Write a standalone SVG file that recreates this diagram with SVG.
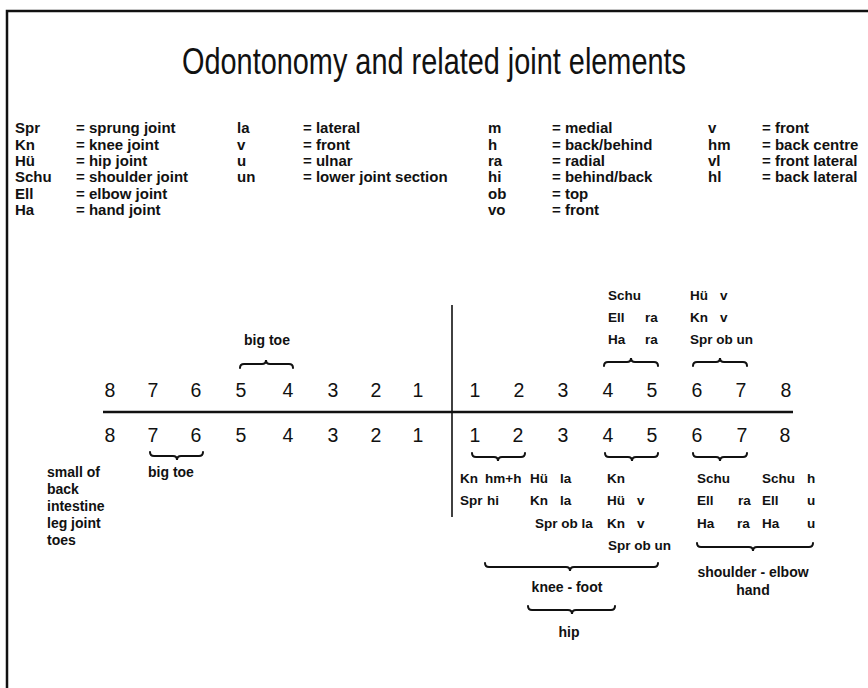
<svg xmlns="http://www.w3.org/2000/svg" width="868" height="688" viewBox="0 0 868 688">
<style>
.t{font-family:"Liberation Sans",Arial,sans-serif;fill:#111}
.lg{font-size:15px;font-weight:bold}
.num{font-size:19.5px}
.lb{font-size:13.5px;font-weight:bold}
.bl{font-size:14px;font-weight:bold}
.br{fill:none;stroke:#111;stroke-width:2;stroke-linecap:round}
.ax{stroke:#111;fill:none}
</style>
<rect x="0" y="0" width="868" height="688" fill="#fff"/>
<path d="M7,688 V11 H868" class="ax" stroke-width="2.5"/>
<g id="title"><text class="t" x="434" y="74" font-size="37" text-anchor="middle" textLength="504" lengthAdjust="spacingAndGlyphs">Odontonomy and related joint elements</text></g>
<g id="legend" class="t lg">
<text x="15" y="133">Spr</text><text x="76" y="133">= sprung joint</text>
<text x="15" y="149.5">Kn</text><text x="76" y="149.5">= knee joint</text>
<text x="15" y="166">Hü</text><text x="76" y="166">= hip joint</text>
<text x="15" y="182">Schu</text><text x="76" y="182">= shoulder joint</text>
<text x="15" y="198.5">Ell</text><text x="76" y="198.5">= elbow joint</text>
<text x="15" y="215">Ha</text><text x="76" y="215">= hand joint</text>
<text x="237" y="133">la</text><text x="303" y="133">= lateral</text>
<text x="237" y="149.5">v</text><text x="303" y="149.5">= front</text>
<text x="237" y="166">u</text><text x="303" y="166">= ulnar</text>
<text x="237" y="182">un</text><text x="303" y="182">= lower joint section</text>
<text x="488" y="133">m</text><text x="552" y="133">= medial</text>
<text x="488" y="149.5">h</text><text x="552" y="149.5">= back/behind</text>
<text x="488" y="166">ra</text><text x="552" y="166">= radial</text>
<text x="488" y="182">hi</text><text x="552" y="182">= behind/back</text>
<text x="488" y="198.5">ob</text><text x="552" y="198.5">= top</text>
<text x="488" y="215">vo</text><text x="552" y="215">= front</text>
<text x="708" y="133">v</text><text x="762" y="133">= front</text>
<text x="708" y="149.5">hm</text><text x="762" y="149.5">= back centre</text>
<text x="708" y="166">vl</text><text x="762" y="166">= front lateral</text>
<text x="708" y="182">hl</text><text x="762" y="182">= back lateral</text>
</g>
<g id="axes">
<line x1="103" y1="412" x2="793" y2="412" class="ax" stroke-width="2.5"/>
<line x1="452" y1="305" x2="452" y2="517" class="ax" stroke-width="1.6"/>
</g>
<g id="numbers-upper" class="t num" text-anchor="middle">
<text x="110" y="397">8</text><text x="153" y="397">7</text><text x="196" y="397">6</text><text x="241" y="397">5</text><text x="288" y="397">4</text><text x="333" y="397">3</text><text x="376" y="397">2</text><text x="418" y="397">1</text>
<text x="475" y="397">1</text><text x="519" y="397">2</text><text x="563" y="397">3</text><text x="608" y="397">4</text><text x="652" y="397">5</text><text x="697" y="397">6</text><text x="741" y="397">7</text><text x="786" y="397">8</text>
</g>
<g id="numbers-lower" class="t num" text-anchor="middle">
<text x="110" y="442">8</text><text x="153" y="442">7</text><text x="196" y="442">6</text><text x="241" y="442">5</text><text x="288" y="442">4</text><text x="333" y="442">3</text><text x="376" y="442">2</text><text x="418" y="442">1</text>
<text x="475" y="442">1</text><text x="518" y="442">2</text><text x="563" y="442">3</text><text x="608" y="442">4</text><text x="652" y="442">5</text><text x="697" y="442">6</text><text x="742" y="442">7</text><text x="785" y="442">8</text>
</g>
<g id="braces">
<path class="br" d="M240,368 Q240,364 244,364 L262,364 Q266,364 266,360 Q266,364 270,364 L289,364 Q293,364 293,368"/>
<path class="br" d="M604,366 Q604,362 608,362 L627,362 Q631,362 631,358 Q631,362 635,362 L654,362 Q658,362 658,366"/>
<path class="br" d="M693,366 Q693,362 697,362 L716,362 Q720,362 720,358 Q720,362 724,362 L743,362 Q747,362 747,366"/>
<path class="br" d="M150,452 Q150,456 154,456 L173,456 Q177,456 177,460 Q177,456 181,456 L199,456 Q203,456 203,452"/>
<path class="br" d="M472,453 Q472,457 476,457 L494,457 Q498,457 498,461 Q498,457 502,457 L521,457 Q525,457 525,453"/>
<path class="br" d="M605,453 Q605,457 609,457 L628,457 Q632,457 632,461 Q632,457 636,457 L654,457 Q658,457 658,453"/>
<path class="br" d="M693,453 Q693,457 697,457 L716,457 Q720,457 720,461 Q720,457 724,457 L743,457 Q747,457 747,453"/>
<path class="br" d="M697,543 Q697,547 701,547 L749,547 Q753,547 753,551 Q753,547 757,547 L809,547 Q813,547 813,543"/>
<path class="br" d="M485,563 Q485,567 489,567 L566,567 Q570,567 570,571 Q570,567 574,567 L654,567 Q658,567 658,563"/>
<path class="br" d="M528,606 Q528,610 532,610 L568,610 Q572,610 572,614 Q572,610 576,610 L611,610 Q615,610 615,606"/>
</g>
<g id="labels-upper" class="t lb">
<text x="608" y="300">Schu</text>
<text x="608" y="322">Ell</text><text x="645" y="322">ra</text>
<text x="608" y="344">Ha</text><text x="645" y="344">ra</text>
<text x="690" y="300">Hü</text><text x="720" y="300">v</text>
<text x="690" y="322">Kn</text><text x="720" y="322">v</text>
<text x="690" y="344">Spr ob un</text>
</g>
<g id="labels-lower" class="t lb">
<text x="460" y="483">Kn</text><text x="485" y="483">hm+h</text><text x="530" y="483">Hü</text><text x="560" y="483">la</text><text x="607" y="483">Kn</text><text x="697" y="483">Schu</text><text x="762" y="483">Schu</text><text x="807" y="483">h</text>
<text x="460" y="505">Spr</text><text x="487" y="505">hi</text><text x="530" y="505">Kn</text><text x="560" y="505">la</text><text x="607" y="505">Hü</text><text x="637" y="505">v</text><text x="697" y="505">Ell</text><text x="738" y="505">ra</text><text x="762" y="505">Ell</text><text x="807" y="505">u</text>
<text x="535" y="528">Spr ob la</text><text x="607" y="528">Kn</text><text x="637" y="528">v</text><text x="697" y="528">Ha</text><text x="737" y="528">ra</text><text x="762" y="528">Ha</text><text x="807" y="528">u</text>
<text x="608" y="550">Spr ob un</text>
</g>
<g id="labels-bold" class="t bl">
<text x="267" y="345" text-anchor="middle">big toe</text>
<text x="148" y="477">big toe</text>
<text x="47" y="477">small of</text>
<text x="47" y="494">back</text>
<text x="47" y="511">intestine</text>
<text x="47" y="528">leg joint</text>
<text x="47" y="545">toes</text>
<text x="567" y="592" text-anchor="middle">knee - foot</text>
<text x="753" y="577" text-anchor="middle">shoulder - elbow</text>
<text x="753" y="595" text-anchor="middle">hand</text>
<text x="569" y="637" text-anchor="middle">hip</text>
</g>
</svg>
